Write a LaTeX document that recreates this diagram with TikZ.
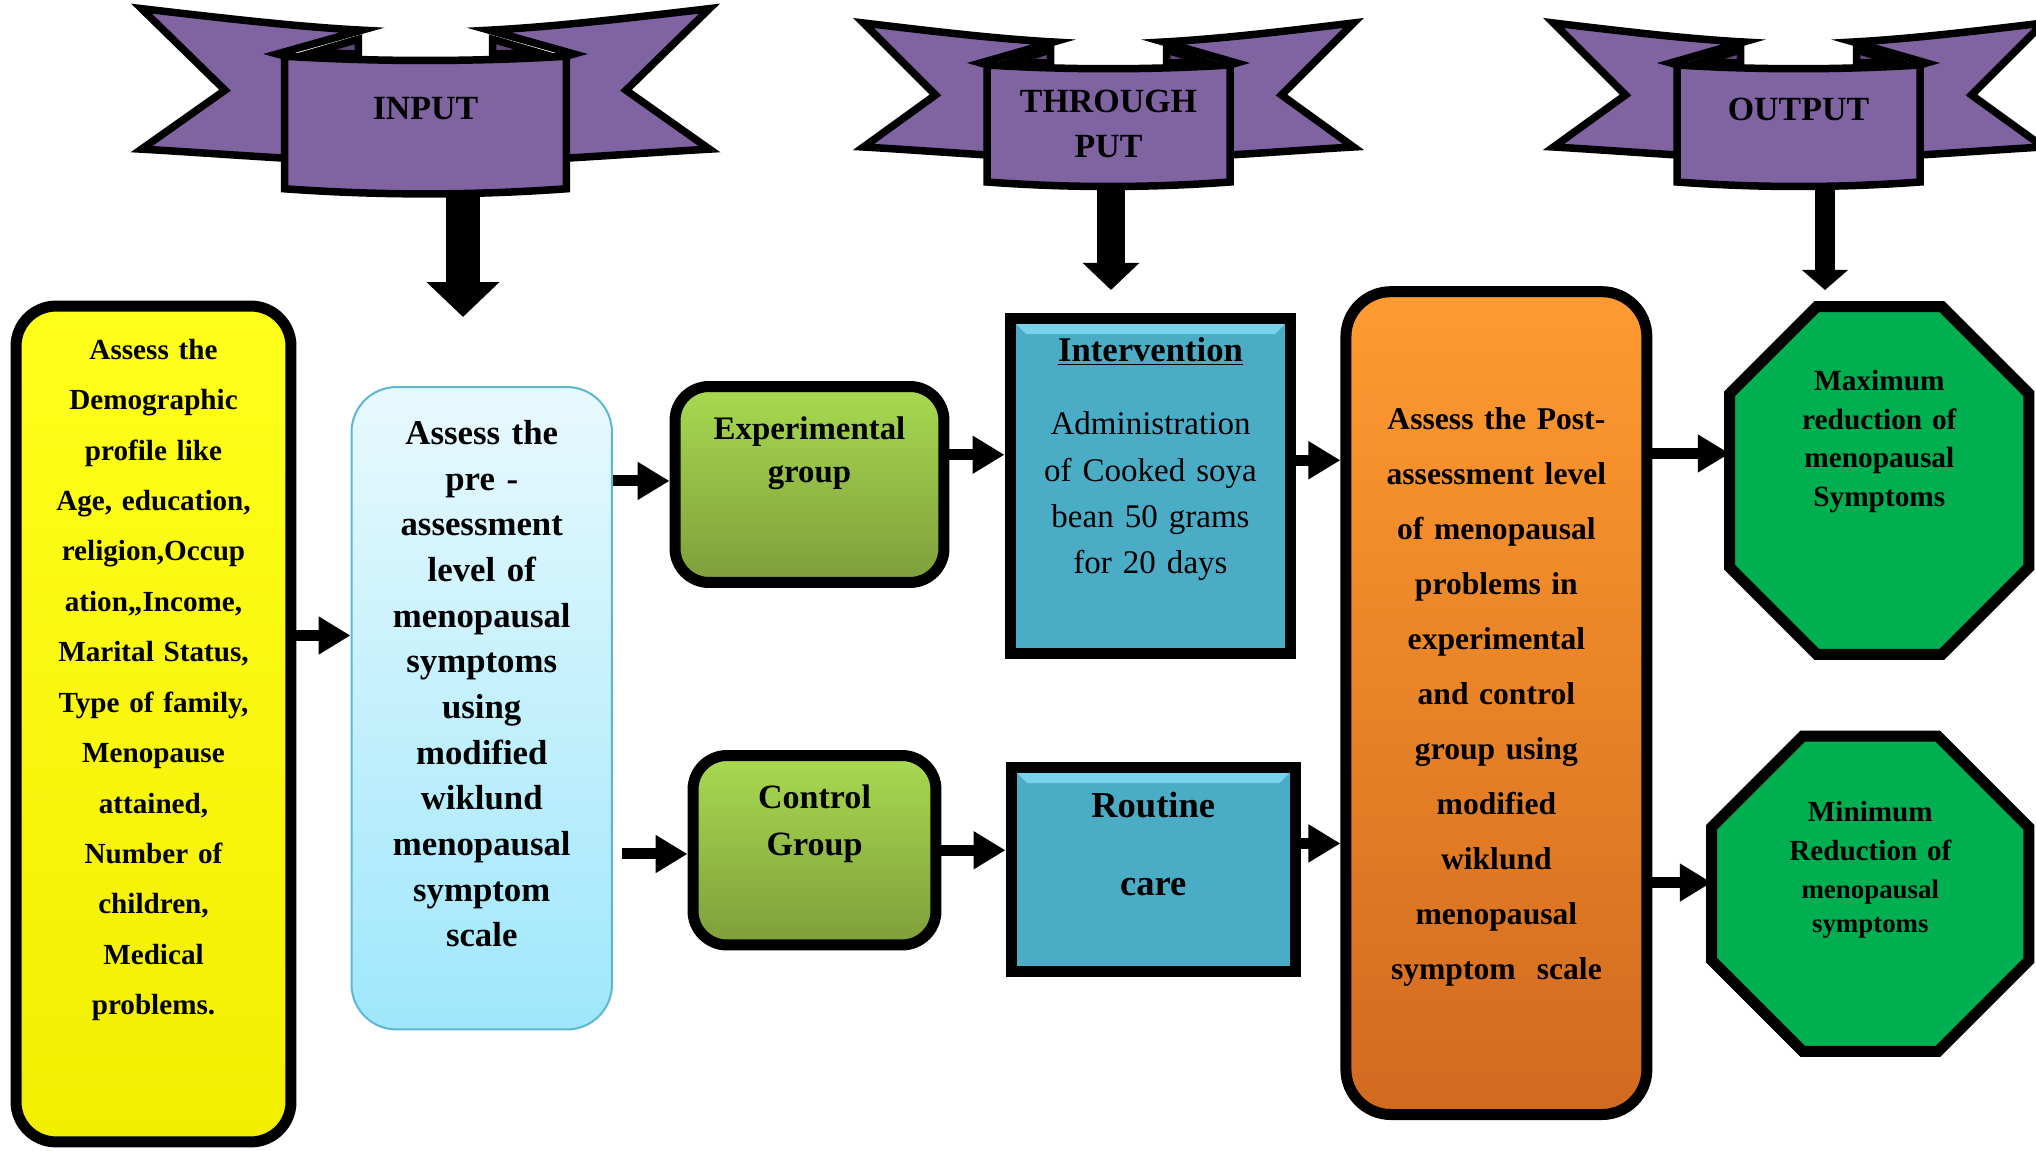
\documentclass[tikz,border=0pt]{standalone}
\usepackage{fontspec}
\setmainfont{Liberation Serif}
\usetikzlibrary{arrows.meta,backgrounds}

\definecolor{ribbon}{HTML}{8064A2}
\definecolor{ribbondark}{HTML}{5F497A}
\definecolor{demogtop}{HTML}{FFFF1A}
\definecolor{demogbot}{HTML}{F2EE00}
\definecolor{pretop}{HTML}{E8F9FE}
\definecolor{prebot}{HTML}{9FE7FB}
\definecolor{preline}{HTML}{5CB7D2}
\definecolor{grouptop}{HTML}{A8DA50}
\definecolor{groupbot}{HTML}{7E9E3B}
\definecolor{steel}{HTML}{4BACC6}
\definecolor{steellight}{HTML}{78D2EC}
\definecolor{posttop}{HTML}{FF9B30}
\definecolor{postbot}{HTML}{D16A1F}
\definecolor{octo}{HTML}{00B050}

\tikzset{
  ribbonline/.style={draw=black, line width=0.15cm, line join=miter},
  banner/.pic={
    \foreach \side in {1,-1}{
      \begin{scope}[xscale=\side]
        \path[ribbonline, fill=ribbon] (-245,23) .. controls (-170,32) and (-110,39) .. (-55,42)
          -- (-128,63) -- (-121,65) -- (-121,155)
          .. controls (-170,152) and (-210,149) .. (-245,147)
          -- (-173,95) -- cycle;
        \path[ribbonline, fill=ribbondark] (-98,62) -- (-58,50) -- (-58,63) -- cycle;
      \end{scope}
    }
    \path[ribbonline, fill=ribbon] (-121.5,65) .. controls (-40,70) and (40,70) .. (121.5,65)
      -- (121.5,182) .. controls (40,188) and (-40,188) .. (-121.5,182) -- cycle;
  },
  bannertext/.style={font=\fontsize{19.3}{26}\selectfont\bfseries, align=center},
  frame/.style={draw=black, line width=0.22cm, align=center, inner sep=0pt},
  bevel/.style={fill=steel, path picture={
    \fill[steellight] (path picture bounding box.north west) -- (path picture bounding box.north east)
      -- ([shift={(-0.32cm,-0.32cm)}]path picture bounding box.north east)
      -- ([shift={(0.32cm,-0.32cm)}]path picture bounding box.north west) -- cycle;}},
  octagon/.style={align=center, inner sep=0pt},
  octoline/.style={draw=black, line width=0.22cm, line join=miter, fill=octo},
  link/.style={line width=0.22cm, -{Triangle[length=0.64cm,width=0.72cm]}}
}

\begin{document}
\begin{tikzpicture}[x=0.02cm, y=-0.02cm]
\useasboundingbox (0,0) rectangle (2036,1151);
\clip (0,0) rectangle (2036,1151);

% banners
\pic[xscale=1.159, yscale=1.133] at (425.5,-17.4) {banner};
\pic at (1108.5,0) {banner};
\pic at (1798.5,0) {banner};
\node[bannertext] (input) at (425.5,109) {INPUT};
\node[bannertext] (through) at (1108.5,124) {THROUGH\\PUT};
\node[bannertext] (output) at (1798.5,109) {OUTPUT};
\coordinate (input-tip) at (463,317);
\coordinate (through-tip) at (1111,290);
\coordinate (output-tip) at (1825,290);

% boxes
\node[frame, rounded corners=0.8cm, top color=demogtop, bottom color=demogbot,
  minimum width=5.5cm, minimum height=16.72cm, text width=5.2cm,
  font=\fontsize{16.6}{28.7}\selectfont\bfseries] (demog) at (153.5,724)
  {Assess the\\Demographic\\profile like\\Age, education,\\religion,Occup\\ation,,Income,\\Marital Status,\\Type of family,\\Menopause\\attained,\\Number of\\children,\\Medical\\problems.\par\vspace{1.76cm}\kern0pt};
\node[rounded corners=0.9cm, draw=preline, line width=0.04cm, top color=pretop, bottom color=prebot,
  minimum width=5.21cm, minimum height=12.85cm, text width=5cm, align=center, inner sep=0pt,
  font=\fontsize{19.8}{26}\selectfont\bfseries] (pre) at (481.75,708.25)
  {Assess the\\pre -\\assessment\\level of\\menopausal\\symptoms\\using\\modified\\wiklund\\menopausal\\symptom\\scale\par\vspace{0.98cm}\kern0pt};
\node[frame, rounded corners=0.68cm, top color=grouptop, bottom color=groupbot,
  minimum width=5.38cm, minimum height=3.92cm, text width=5cm,
  font=\fontsize{18.7}{24.4}\selectfont\bfseries] (exp) at (809.5,484.5)
  {Experimental\\group\par\vspace{1.24cm}\kern0pt};
\node[frame, rounded corners=0.68cm, top color=grouptop, bottom color=groupbot,
  minimum width=4.86cm, minimum height=3.79cm, text width=4.5cm,
  font=\fontsize{19.4}{26.6}\selectfont\bfseries] (ctrl) at (814.5,850.25)
  {Control\\Group\par\vspace{1.06cm}\kern0pt};
\node[frame, bevel, minimum width=5.62cm, minimum height=6.72cm, text width=5.3cm,
  font=\fontsize{18.8}{26.3}\selectfont] (interv) at (1150.5,486)
  {{\fontsize{19.7}{26.3}\selectfont\bfseries\underline{Intervention}}\\[15.5pt]Administration\\of Cooked soya\\bean 50 grams\\for 20 days\par\vspace{1.08cm}\kern0pt};
\node[frame, bevel, minimum width=5.69cm, minimum height=4.1cm, text width=5.3cm,
  font=\fontsize{20.8}{44.8}\selectfont\bfseries] (routine) at (1153.25,869.5)
  {Routine\\care\par\vspace{1.02cm}\kern0pt};
\node[frame, rounded corners=0.9cm, top color=posttop, bottom color=postbot,
  minimum width=6.02cm, minimum height=16.46cm, text width=5.7cm,
  font=\fontsize{18}{31.3}\selectfont\bfseries] (post) at (1496.4,703.1)
  {Assess the Post-\\assessment level\\of menopausal\\problems in\\experimental\\and control\\group using\\modified\\wiklund\\menopausal\\symptom~ scale\par\vspace{0.24cm}\kern0pt};
\node[octagon, minimum width=5.97cm, minimum height=6.94cm, text width=5.3cm,
  font=\fontsize{16.7}{22.1}\selectfont\bfseries] (max) at (1879.3,480.5)
  {Maximum\\reduction of\\menopausal\\Symptoms\par\vspace{1.56cm}\kern0pt};
\node[octagon, minimum width=6.33cm, minimum height=6.29cm, text width=5.6cm,
  font=\fontsize{16.6}{22.1}\selectfont\bfseries] (min) at (1870.3,893.8)
  {Minimum\\Reduction of\\{\fontsize{15.3}{22.1}\selectfont menopausal\\[-2.8pt]symptoms}\par\vspace{0.96cm}\kern0pt};

% connectors
\draw[link] (demog.east |- pre.151) -- (pre.151);
\draw[link] (pre.60) -- (pre.60 -| exp.west);
\draw[link, shorten <=0.18cm] (pre.-48) -- (pre.-48 -| ctrl.west);
\draw[link] (exp.12) -- (exp.12 -| interv.west);
\draw[link] (ctrl.east) -- (ctrl.east -| routine.west);
\draw[link] (interv.10) -- (interv.10 -| post.west);
\draw[link] (routine.10) -- (routine.10 -| post.west);
\draw[link] (post.58) -- (post.58 -| max.west);
\draw[link] (post.-49) -- (post.-49 -| min.west);

\begin{scope}[on background layer]
  \foreach \n/\c in {max/1.74cm, min/1.82cm}
    \path[octoline] ([xshift=\c]\n.north west) -- ([xshift=-\c]\n.north east)
      -- ([yshift=-\c]\n.north east) -- ([yshift=\c]\n.south east)
      -- ([xshift=-\c]\n.south east) -- ([xshift=\c]\n.south west)
      -- ([yshift=\c]\n.south west) -- ([yshift=-\c]\n.north west) -- cycle;
  \draw[line width=0.68cm, -{Triangle[length=0.7cm,width=1.42cm]}] (input-tip |- input) -- (input-tip);
  \draw[line width=0.56cm, -{Triangle[length=0.54cm,width=1.1cm]}] (through-tip |- through) -- (through-tip);
  \draw[line width=0.4cm, -{Triangle[length=0.4cm,width=0.9cm]}] (output-tip |- output) -- (output-tip);
\end{scope}
\end{tikzpicture}
\end{document}
